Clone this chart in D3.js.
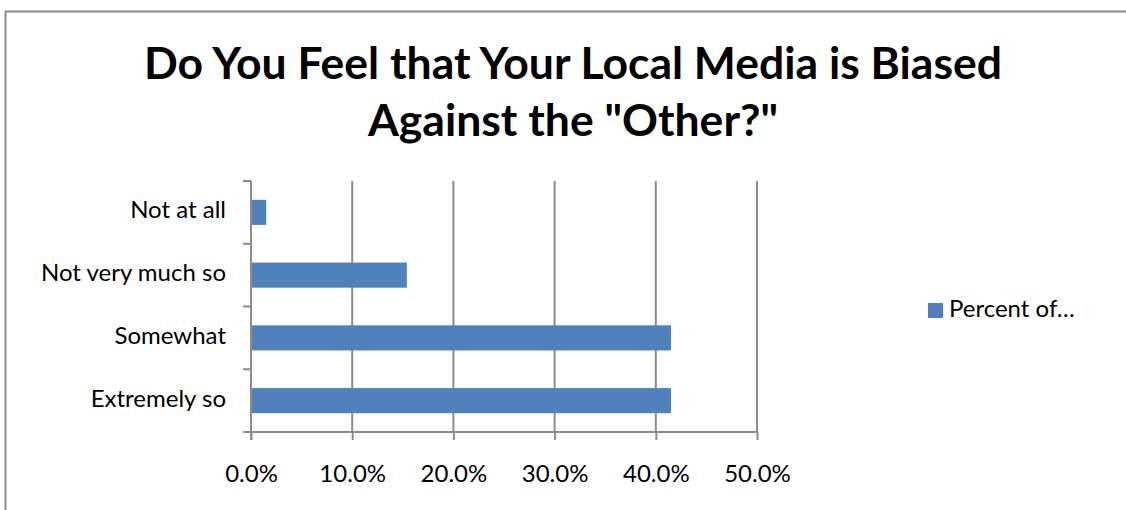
<!DOCTYPE html>
<html>
<head>
<meta charset="utf-8">
<script src="https://cdn.jsdelivr.net/npm/d3@7"></script>
<style>
  body { margin: 0; background: #fff; }
</style>
</head>
<body>
<div id="chart"></div>
<script>
// data
const categories = ["Extremely so", "Somewhat", "Not very much so", "Not at all"];
const percents = [41.5, 41.5, 15.4, 1.5];
const xTicks = [0, 10, 20, 30, 40, 50];
const titleLines = ["Do You Feel that Your Local Media is Biased", "Against the \"Other?\""];
const seriesName = "Percent of\u2026";

const width = 1126, height = 510;
const font = "Lato, 'Open Sans', sans-serif";

const svg = d3.select("#chart").append("svg")
    .attr("width", width)
    .attr("height", height);

// outer chart border
svg.append("rect")
    .attr("x", 5.5).attr("y", 11.5)
    .attr("width", 1140).attr("height", 520)
    .attr("fill", "none")
    .attr("stroke", "#8c8c8c")
    .attr("stroke-width", 2);

// title
svg.append("g").selectAll("text")
  .data(titleLines)
  .join("text")
    .attr("x", 573)
    .attr("y", (d, i) => 79 + i * 57)
    .attr("text-anchor", "middle")
    .attr("font-family", font)
    .attr("font-weight", "bold")
    .attr("font-size", "44.5px")
    .attr("fill", "#000")
    .text(d => d);

// plot area
const plot = {left: 251, right: 757, top: 181, bottom: 432};

const x = d3.scaleLinear()
    .domain([0, 50])
    .range([plot.left, plot.right]);

const y = d3.scaleBand()
    .domain(categories)
    .range([plot.bottom, plot.top])
    .paddingInner(0.6)
    .paddingOuter(0.3);

const yTickPos = d3.range(categories.length + 1)
    .map(i => plot.bottom - i * (plot.bottom - plot.top) / categories.length);

// gridlines
svg.append("g").selectAll("line")
  .data(xTicks.slice(1))
  .join("line")
    .attr("x1", d => x(d)).attr("x2", d => x(d))
    .attr("y1", plot.top).attr("y2", plot.bottom)
    .attr("stroke", "#8c8c8c")
    .attr("stroke-width", 2);

// bars
svg.append("g").selectAll("rect")
  .data(categories)
  .join("rect")
    .attr("x", x(0))
    .attr("y", d => y(d))
    .attr("width", (d, i) => x(percents[i]) - x(0))
    .attr("height", y.bandwidth())
    .attr("fill", "#4f81bd");

// x axis
const xAxis = d3.axisBottom(x)
    .tickValues(xTicks)
    .tickSize(8)
    .tickPadding(25)
    .tickFormat(d => d.toFixed(1) + "%");

svg.append("g")
    .attr("transform", `translate(0, ${plot.bottom})`)
    .call(xAxis)
    .call(g => g.select(".domain").attr("stroke", "#8c8c8c").attr("stroke-width", 2)
        .attr("d", `M${plot.left},0H${plot.right}`))
    .call(g => g.selectAll(".tick line").attr("stroke", "#8c8c8c").attr("stroke-width", 2))
    .call(g => g.selectAll(".tick text")
        .attr("font-family", font).attr("font-size", "24px").attr("fill", "#000"));

// y axis line and ticks
const yAxisG = svg.append("g");
yAxisG.append("line")
    .attr("x1", plot.left).attr("x2", plot.left)
    .attr("y1", plot.top).attr("y2", plot.bottom + 8)
    .attr("stroke", "#8c8c8c").attr("stroke-width", 2);
yAxisG.selectAll(".ytick")
  .data(yTickPos)
  .join("line")
    .attr("class", "ytick")
    .attr("x1", plot.left - 8).attr("x2", plot.left)
    .attr("y1", d => d).attr("y2", d => d)
    .attr("stroke", "#8c8c8c").attr("stroke-width", 2);

// category labels
yAxisG.selectAll("text")
  .data(categories)
  .join("text")
    .attr("x", 226)
    .attr("y", d => y(d) + y.bandwidth() / 2)
    .attr("text-anchor", "end")
    .attr("dominant-baseline", "middle")
    .attr("font-family", font)
    .attr("font-size", "24px")
    .attr("fill", "#000")
    .text(d => d);

// legend
const legend = svg.append("g").attr("transform", "translate(928, 303)");
legend.append("rect")
    .attr("width", 15).attr("height", 15)
    .attr("fill", "#4f81bd");
legend.append("text")
    .attr("x", 21).attr("y", 8)
    .attr("dominant-baseline", "middle")
    .attr("font-family", font)
    .attr("font-size", "24px")
    .attr("fill", "#000")
    .text(seriesName);
</script>
</body>
</html>
